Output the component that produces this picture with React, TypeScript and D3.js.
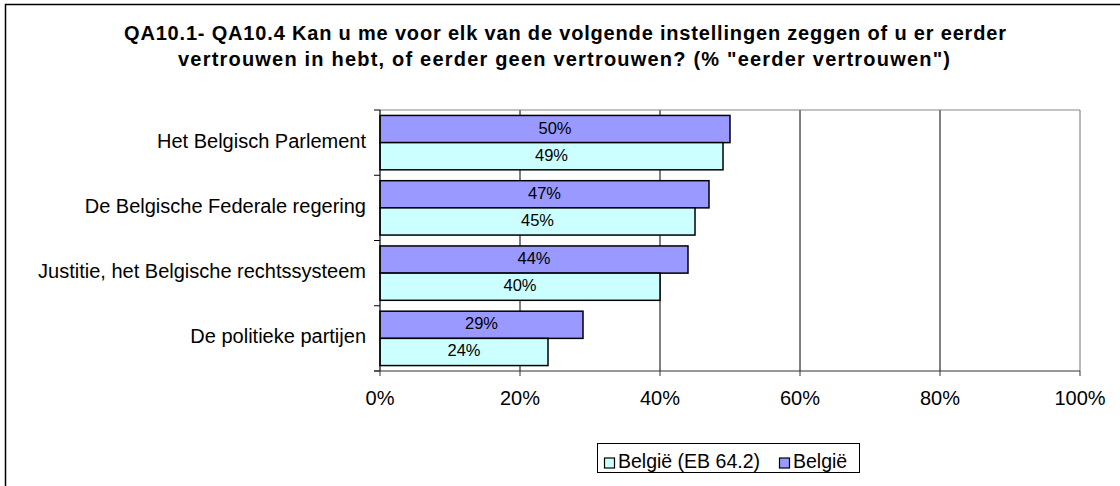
import React from "react";
import * as d3 from "d3";

const categories = [
  "Het Belgisch Parlement",
  "De Belgische Federale regering",
  "Justitie, het Belgische rechtssysteem",
  "De politieke partijen",
];
const seriesNames = ["België", "België (EB 64.2)"];
const belgie = [50, 47, 44, 29];
const belgieEB642 = [49, 45, 40, 24];
const xTicks = [0, 20, 40, 60, 80, 100];
const titleLines = [
  "QA10.1- QA10.4 Kan u me voor elk van de volgende instellingen zeggen of u er eerder",
  "vertrouwen in hebt, of eerder geen vertrouwen? (% \"eerder vertrouwen\")",
];
const colors = ["#9999FF", "#CCFFFF"];

export default function App() {
  const W = 1120, H = 486;
  const left = 380, right = 1080, top = 110, bottom = 371;
  const x = d3.scaleLinear().domain([0, 100]).range([left, right]);
  const y = d3.scaleBand().domain(categories).range([top, bottom]);
  const inner = d3.scaleBand().domain(seriesNames).range([0, y.bandwidth()]).paddingInner(0).paddingOuter(0.2);
  const seriesVals = [belgie, belgieEB642];
  const font = "Arial, 'Liberation Sans', sans-serif";
  const titleGeom = [
    { cx: 565, y: 40, len: 882 },
    { cx: 564, y: 66, len: 772 },
  ];

  return (
    <div style={{ position: "absolute", left: 0, top: 0 }}>
      <svg width={W} height={H} style={{ display: "block" }} fontFamily={font}>
        <rect x={0} y={0} width={W} height={H} fill="#fff" />
        <rect x={5.5} y={4.5} width={W + 10} height={H + 10} fill="none" stroke="#000" strokeWidth={1.5} />
        {titleLines.map((t, i) => (
          <text
            key={i}
            x={titleGeom[i].cx - titleGeom[i].len / 2}
            y={titleGeom[i].y}
            textLength={titleGeom[i].len}
            lengthAdjust="spacing"
            fontSize={20}
            fontWeight="bold"
            fill="#000"
          >
            {t}
          </text>
        ))}
        {/* gridlines */}
        {xTicks.slice(1, -1).map((t) => (
          <line key={t} x1={x(t)} x2={x(t)} y1={top} y2={bottom} stroke="#000" strokeWidth={1} />
        ))}
        {/* plot border top/right */}
        <line x1={left} x2={right} y1={top} y2={top} stroke="#888" strokeWidth={1.2} />
        <line x1={right} x2={right} y1={top} y2={bottom} stroke="#888" strokeWidth={1.2} />
        {/* bars */}
        {categories.map((c, ci) =>
          seriesNames.map((s, si) => {
            const v = seriesVals[si][ci];
            const by = (y(c) as number) + (inner(s) as number);
            const bh = inner.bandwidth();
            return (
              <g key={c + s}>
                <rect x={x(0)} y={by} width={x(v) - x(0)} height={bh} fill={colors[si]} stroke="#000" strokeWidth={1.5} />
                <text x={(x(0) + x(v)) / 2} y={by + bh / 2 + 4.5} textAnchor="middle" fontSize={16.5} fill="#000">
                  {v}%
                </text>
              </g>
            );
          })
        )}
        {/* left axis */}
        <line x1={left} x2={left} y1={top} y2={bottom} stroke="#000" strokeWidth={1.2} />
        {[...categories.map((c) => y(c) as number), bottom].map((v, i) => (
          <line key={i} x1={left - 6} x2={left} y1={v} y2={v} stroke="#000" strokeWidth={1} />
        ))}
        {categories.map((c) => (
          <text key={c} x={366} y={(y(c) as number) + y.bandwidth() / 2 + 5} textAnchor="end" fontSize={20} fill="#000">
            {c}
          </text>
        ))}
        {/* bottom axis */}
        <line x1={left - 6} x2={right} y1={bottom} y2={bottom} stroke="#333" strokeWidth={1.2} />
        {xTicks.map((t) => (
          <g key={t}>
            <line x1={x(t)} x2={x(t)} y1={bottom} y2={bottom + 5} stroke="#333" strokeWidth={1} />
            <text x={x(t)} y={405} textAnchor="middle" fontSize={20} fill="#000">
              {t}%
            </text>
          </g>
        ))}
        {/* legend */}
        <rect x={597.5} y={443.5} width={262} height={29} fill="#fff" stroke="#000" strokeWidth={1} />
        <rect x={604.5} y={458} width={10} height={10} fill={colors[1]} stroke="#000" strokeWidth={1.2} />
        <text x={618} y={468} fontSize={19.5} fill="#000">{seriesNames[1]}</text>
        <rect x={779.5} y={458} width={10} height={10} fill={colors[0]} stroke="#000" strokeWidth={1.2} />
        <text x={793} y={468} fontSize={19.5} fill="#000">{seriesNames[0]}</text>
      </svg>
    </div>
  );
}
